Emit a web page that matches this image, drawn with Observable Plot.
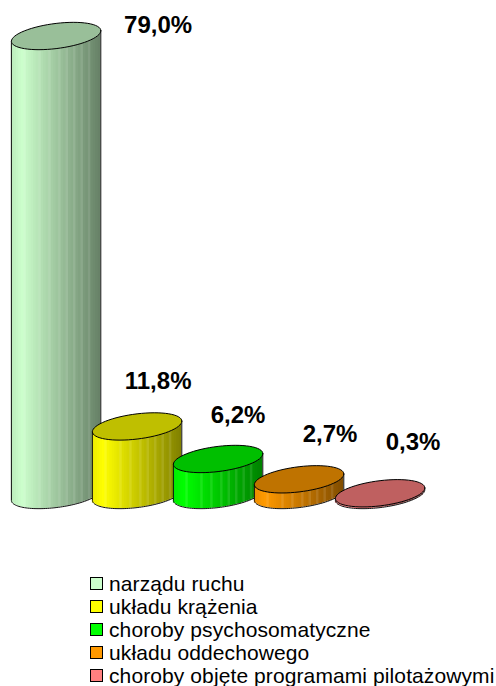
<!DOCTYPE html>
<html><head><meta charset="utf-8">
<script src="https://cdn.jsdelivr.net/npm/d3@7"></script>
<script src="https://cdn.jsdelivr.net/npm/@observablehq/plot@0.6"></script>
<style>
html,body{margin:0;padding:0;background:#fff}
#legend{position:absolute;left:90px;top:572px;font:21px "Liberation Sans",Arial,sans-serif;letter-spacing:.1px;color:#000;line-height:20px;white-space:nowrap}
#legend div{height:23px;display:flex;align-items:center}
#legend i{display:inline-block;width:11px;height:11px;border:1px solid #000;margin-right:6px}
</style></head><body>
<div id="chart"></div><div id="legend"></div>
<script>
const categories = ["narządu ruchu","układu krążenia","choroby psychosomatyczne","układu oddechowego","choroby objęte programami pilotażowymi"];
const values = [79.0, 11.8, 6.2, 2.7, 0.3];
const labels = ["79,0%","11,8%","6,2%","2,7%","0,3%"];
const colors = ["#ccffcc","#ffff00","#00ff00","#ff9900","#ff8080"];
const labelDx = [102,21,20,31,33];
const labelDy = [-11,-45,-44,-45,-51];

const W=496,H=530,pxX=81,pxY=5.81,base=494.5;
const rx=44.7/pxX, ry=12.6/pxY, tilt=5.3/pxY, off=55.6/pxX;
const ex=(i,t)=>i+off+rx*Math.cos(t);
const ey=(v,t)=>v+(-ry*Math.sin(t)+tilt*Math.cos(t));
const ell=(i,v,a,b,n=64)=>d3.range(n+1).map(k=>{const t=a+(b-a)*k/n;return {x:ex(i,t),y:ey(v,t)};});
const front=(u)=>tilt*u-ry*Math.sqrt(Math.max(0,1-u*u));
const mix=(c,f)=>{const r=d3.rgb(c);return d3.rgb(r.r*f,r.g*f,r.b*f).formatHex();};
const shade=u=>u<0.12?0.92+u*0.66:1-0.5*((u-0.12)/0.88);
const lighter=new Set([5,11,15,19,22,25,28,31]);
const N=36;
const marks=[];
values.forEach((v,i)=>{
  const strips=d3.range(N).map(k=>{
    const a=k/N,b=(k+1)/N;
    const m=(a+b)-1;
    let col=mix(colors[i],shade((a+b)/2));
    if(lighter.has(k)) col=d3.interpolateRgb(col,"#fff")(0.1);
    return {x1:i+off+rx*(2*a-1),x2:i+off+rx*(2*b-1)+(k<N-1?0.012:0),y1:front(m),y2:v+front(m),fill:col};
  });
  marks.push(Plot.rect(strips,{x1:"x1",x2:"x2",y1:"y1",y2:"y2",fill:"fill"}));
  const bottom=ell(i,0,Math.PI,0);
  const outline=[{x:ex(i,Math.PI),y:v+ey(0,Math.PI)},...bottom,{x:ex(i,0),y:v+ey(0,0)}];
  marks.push(Plot.line(outline,{x:"x",y:"y",stroke:"#111",strokeWidth:1,curve:"linear"}));
  const top=ell(i,v,0,2*Math.PI);
  marks.push(Plot.line(top,{x:"x",y:"y",fill:mix(colors[i],0.75),stroke:"#000",strokeWidth:1,curve:"linear"}));
});
labels.forEach((l,i)=>{
  marks.push(Plot.text([l],{x:()=>i+off,y:()=>values[i],text:d=>d,dx:labelDx[i],dy:labelDy[i],
    fontSize:24,fontWeight:"bold",fontFamily:"Liberation Sans",fill:"#000",textAnchor:"middle",lineAnchor:"middle"}));
});
const chart=Plot.plot({width:W,height:H,margin:0,
  x:{type:"linear",domain:[0,W/pxX],range:[0,W],axis:null},
  y:{type:"linear",domain:[(base-H)/pxY,base/pxY],range:[H,0],axis:null},
  style:{background:"transparent"},
  marks});
document.getElementById("chart").append(chart);
const lg=document.getElementById("legend");
categories.forEach((c,i)=>{
  const d=document.createElement("div");
  const s=document.createElement("i");s.style.background=colors[i];
  const t=document.createElement("span");t.textContent=c;
  d.append(s,t);lg.append(d);
});
</script></body></html>
